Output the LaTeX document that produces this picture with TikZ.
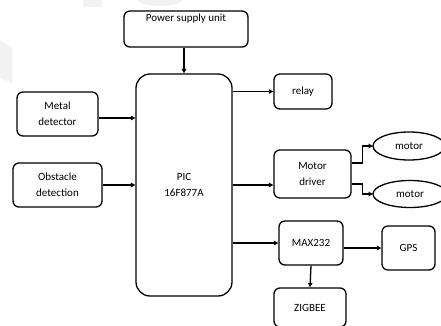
\documentclass[tikz,border=0pt]{standalone}
\usepackage{fontspec}
\setmainfont{Carlito}
\usetikzlibrary{arrows.meta}
\tikzset{
    blk/.style={draw, line width=1.3pt, rounded corners=6pt, align=center, inner sep=2pt},
    arr/.style={line width=1.3pt, -{Triangle[length=4.5pt,width=4.5pt]}},
}
\begin{document}
\begin{tikzpicture}[x=1pt,y=-1pt,font=\fontsize{11}{16}\selectfont]
    \useasboundingbox (0,0) rectangle (441,326);
    % faint watermark pieces
    \fill[gray!10] (0,40) -- (12,48) -- (12,83) -- (0,78) -- cycle;
    \fill[gray!10] (83,0) rectangle (102,7);
    \fill[gray!10] (137,0) .. controls (145,8) and (175,8) .. (183,0) -- cycle;
    % blocks
    \node[blk, minimum width=124, minimum height=36, label={[anchor=north,inner sep=3pt]north:Power supply unit}] (psu) at (186,29) {};
    \node[blk, rounded corners=14pt, minimum width=96, minimum height=222] (pic) at (184,185) {PIC\\16F877A};
    \node[blk, minimum width=81, minimum height=44] (metal) at (57.5,114) {Metal\\detector};
    \node[blk, minimum width=89, minimum height=44] (obst) at (57.5,185) {Obstacle\\detection};
    \node[blk, minimum width=58, minimum height=35] (relay) at (303,91.5) {relay};
    \node[blk, minimum width=77, minimum height=48] (driver) at (312.5,174) {Motor\\driver};
    \node[blk, minimum width=64, minimum height=44] (max) at (311,243) {MAX232};
    \node[blk, minimum width=53, minimum height=44] (gps) at (408.5,248) {GPS};
    \node[blk, minimum width=72, minimum height=39] (zig) at (310,307.5) {ZIGBEE};
    \draw[line width=1.3pt] (409,146) ellipse (36 and 14);
    \node (motora) at (409,146) {motor};
    \coordinate (motoraw) at (373,146);
    \draw[line width=1.3pt] (410,194) ellipse (37 and 13.5);
    \node (motorb) at (410,194) {motor};
    \coordinate (motorbw) at (373,194);
    % connectors
    \draw[arr] (psu.south -| pic.north) -- (pic.north);
    \draw[arr] ([yshift=-4pt]metal.east) -- ([yshift=-4pt]metal.east -| pic.west);
    \draw[arr] (obst.east) -- (obst.east -| pic.west);
    \draw[arr] (relay.west -| pic.east) -- (relay.west);
    \draw[arr] ([yshift=-11pt]driver.west -| pic.east) -- ([yshift=-11pt]driver.west);
    \draw[arr] ([yshift=11pt]driver.east) -- ++(11,0) |- (motoraw);
    \draw[arr] ([yshift=-10pt]driver.east) -- ++(11,0) |- (motorbw);
    \draw[arr] (max.west -| pic.east) -- (max.west);
    \draw[arr] (gps.west -| max.east) -- (gps.west);
    \draw[arr] (max.south) -- (zig.north);
\end{tikzpicture}
\end{document}
